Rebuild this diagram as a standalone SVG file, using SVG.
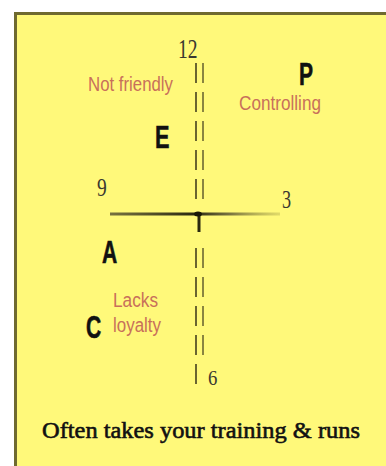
<svg xmlns="http://www.w3.org/2000/svg" width="386" height="466" viewBox="0 0 386 466">
  <defs>
    <linearGradient id="hgrad" x1="110" y1="0" x2="280" y2="0" gradientUnits="userSpaceOnUse">
      <stop offset="0" stop-color="#555030" stop-opacity="0.8"/>
      <stop offset="0.5" stop-color="#2a2810"/>
      <stop offset="0.7" stop-color="#555030" stop-opacity="0.8"/>
      <stop offset="1" stop-color="#9a9440" stop-opacity="0.3"/>
    </linearGradient>
    <style>
      .label { font-family: "Liberation Sans", Arial, sans-serif; font-size: 20px; fill: #c8705a; }
      .letter { font-family: "Liberation Sans", Arial, sans-serif; font-weight: bold; font-size: 31px; fill: #111; stroke: #111; stroke-width: 0.6; }
      .num { font-family: "Liberation Serif", "Times New Roman", serif; fill: #3a3830; }
      .dash1 { stroke: #6a6530; stroke-width: 2; stroke-dasharray: 20 9; fill: none; }
      .dash2 { stroke: #8a8540; stroke-width: 2; stroke-dasharray: 20 9; fill: none; }
    </style>
  </defs>
  <rect x="0" y="0" width="386" height="466" fill="#ffffff"/>
  <rect x="15.5" y="13.5" width="420" height="500" fill="#fff97a" stroke="#6f6a30" stroke-width="3"/>

  <g id="connectors">
    <line class="dash1" x1="196" y1="63" x2="196" y2="200"/>
    <line class="dash2" x1="203" y1="63" x2="203" y2="200"/>
    <line class="dash1" x1="196" y1="248" x2="196" y2="393"/>
    <line class="dash2" x1="203" y1="248" x2="203" y2="364"/>
    <line x1="110" y1="214" x2="280" y2="214" stroke="url(#hgrad)" stroke-width="3"/>
    <line x1="199" y1="213" x2="199" y2="232" stroke="#2a2810" stroke-width="3"/>
    <ellipse cx="198" cy="214" rx="4" ry="2.5" fill="#1a1808"/>
  </g>

  <g id="numerals">
    <text class="num" transform="translate(178,58) scale(0.7,1)" font-size="28">12</text>
    <text class="num" transform="translate(97,196) scale(0.75,1)" font-size="26">9</text>
    <text class="num" transform="translate(282,208) scale(0.7,1)" font-size="26">3</text>
    <text class="num" transform="translate(208,385) scale(0.85,1)" font-size="22">6</text>
  </g>

  <g id="node-P"><text class="letter" transform="translate(299,85) scale(0.68,1)">P</text></g>
  <g id="node-E"><text class="letter" transform="translate(155,148) scale(0.7,1)">E</text></g>
  <g id="node-A"><text class="letter" transform="translate(102,263) scale(0.68,1)">A</text></g>
  <g id="node-C"><text class="letter" transform="translate(86,338) scale(0.68,1)">C</text></g>

  <g id="label-notfriendly"><text class="label" x="88" y="91" textLength="85" lengthAdjust="spacingAndGlyphs">Not friendly</text></g>
  <g id="label-controlling"><text class="label" x="239" y="110" textLength="82" lengthAdjust="spacingAndGlyphs">Controlling</text></g>
  <g id="label-lacks"><text class="label" x="113" y="307" textLength="45" lengthAdjust="spacingAndGlyphs">Lacks</text></g>
  <g id="label-loyalty"><text class="label" x="113" y="332" textLength="48" lengthAdjust="spacingAndGlyphs">loyalty</text></g>

  <g id="caption">
    <text x="42" y="438" font-family="'Liberation Serif', 'Times New Roman', serif" font-size="23" fill="#111" stroke="#111" stroke-width="0.6" textLength="318" lengthAdjust="spacingAndGlyphs">Often takes your training &amp; runs</text>
  </g>
</svg>
